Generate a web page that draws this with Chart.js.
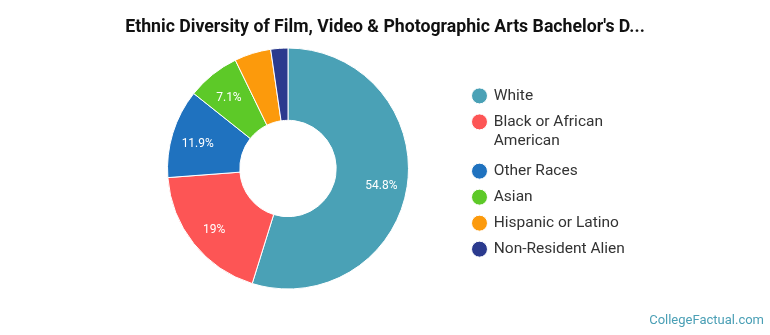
<!DOCTYPE html>
<html lang="en">
<head>
    <meta charset="UTF-8">
    <title>Ethnic Diversity</title>
    <script src="https://cdn.jsdelivr.net/npm/chart.js"></script>
    <style>
        body {
            margin: 0;
            background: #ffffff;
        }

        .chart-container {
            width: 770px;
            height: 335px;
            position: relative;
        }
    </style>
</head>
<body>
    <div class="chart-container">
        <canvas id="diversityChart"></canvas>
    </div>

    <script>
        // Chart data
        const categories = ['White', ['Black or African', 'American'], 'Other Races', 'Asian', 'Hispanic or Latino', 'Non-Resident Alien'];
        const shares = [54.8, 19, 11.9, 7.1, 4.9, 2.3];
        const sliceColors = ['#4aa1b6', '#fd5555', '#1f72bf', '#5dc928', '#fc9a0c', '#2b3a8e'];
        const titleText = "Ethnic Diversity of Film, Video & Photographic Arts Bachelor's D...";
        const sourceText = 'CollegeFactual.com';

        // widen the legend box so the title stays centred on the page
        const legendWidth = {
            id: 'legendWidth',
            beforeUpdate(chart) {
                const legend = chart.legend;
                if (legend && !legend._widthPatched) {
                    const fit = legend.fit;
                    legend.fit = function () {
                        fit.call(this);
                        this.width = 194;
                    };
                    legend._widthPatched = true;
                }
            }
        };

        // percentage text inside the bigger slices
        const sliceLabels = {
            id: 'sliceLabels',
            afterDatasetsDraw(chart) {
                const ctx = chart.ctx;
                const meta = chart.getDatasetMeta(0);
                ctx.save();
                ctx.font = '12px Roboto';
                ctx.fillStyle = '#ffffff';
                ctx.textAlign = 'center';
                ctx.textBaseline = 'middle';
                meta.data.forEach((arc, i) => {
                    if (shares[i] < 5) return;
                    const p = arc.getProps(['x', 'y', 'startAngle', 'endAngle', 'innerRadius', 'outerRadius'], true);
                    const mid = (p.startAngle + p.endAngle) / 2;
                    const r = p.innerRadius + (p.outerRadius - p.innerRadius) * 0.64;
                    ctx.fillText(shares[i] + '%', p.x + Math.cos(mid) * r, p.y + Math.sin(mid) * r + 3);
                });
                ctx.restore();
            }
        };

        // source line in the bottom right corner
        const sourceNote = {
            id: 'sourceNote',
            afterDraw(chart) {
                const ctx = chart.ctx;
                ctx.save();
                ctx.font = '13px Roboto';
                ctx.fillStyle = '#4a9fb5';
                ctx.textAlign = 'right';
                ctx.textBaseline = 'middle';
                ctx.fillText(sourceText, chart.width - 6, 321);
                ctx.restore();
            }
        };

        const ctx = document.getElementById('diversityChart').getContext('2d');
        new Chart(ctx, {
            type: 'doughnut',
            data: {
                labels: categories,
                datasets: [{
                    data: shares,
                    backgroundColor: sliceColors,
                    borderColor: '#ffffff',
                    borderWidth: 1
                }]
            },
            options: {
                responsive: true,
                maintainAspectRatio: false,
                animation: false,
                cutout: '40%',
                layout: {
                    padding: { left: 113.5, right: 113.5, top: 10, bottom: 45.5 }
                },
                plugins: {
                    title: {
                        display: true,
                        text: titleText,
                        color: '#111111',
                        font: { family: 'Roboto', size: 17.7, weight: 'bold', lineHeight: 1.2 },
                        padding: { top: 7.4, bottom: 8.9 }
                    },
                    legend: {
                        position: 'right',
                        fullSize: false,
                        title: {
                            display: true,
                            text: '',
                            padding: 0,
                            font: { size: 8, lineHeight: 1 }
                        },
                        labels: {
                            usePointStyle: true,
                            pointStyle: 'circle',
                            boxWidth: 13,
                            boxHeight: 11.3,
                            padding: 10.5,
                            color: '#333333',
                            font: { family: 'Roboto', size: 15.5, lineHeight: 1.25 }
                        }
                    },
                    tooltip: { enabled: false }
                }
            },
            plugins: [legendWidth, sliceLabels, sourceNote]
        });
    </script>
</body>
</html>
